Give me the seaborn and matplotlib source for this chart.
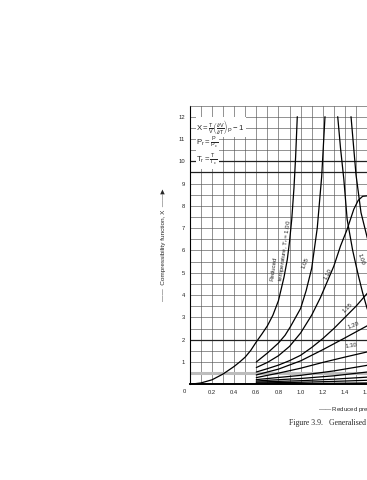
import matplotlib
matplotlib.use("Agg")
import matplotlib.pyplot as plt
import seaborn as sns
import numpy as np

# Data (reduced pressure Pr vs compressibility function X)
pr_100 = [0, 0.1, 0.2, 0.3, 0.4, 0.45, 0.5, 0.55, 0.6, 0.65, 0.7, 0.75, 0.8, 0.85, 0.88, 0.9, 0.92, 0.94, 0.955, 0.97]
x_100 = [0, 0.06, 0.2, 0.46, 0.8, 1.0, 1.22, 1.52, 1.9, 2.25, 2.62, 3.1, 3.75, 4.8, 5.6, 6.4, 7.4, 8.8, 10.2, 12.0]

pr_100b = [1.335, 1.36, 1.39, 1.42, 1.47, 1.52, 1.56, 1.6, 1.65]
x_100b = [12.0, 10.6, 9.2, 7.4, 6.0, 4.9, 4.1, 3.4, 2.8]

pr_105 = [0.6, 0.7, 0.8, 0.86, 0.91, 1.0, 1.05, 1.1, 1.15, 1.19, 1.22]
x_105 = [1.0, 1.4, 1.85, 2.2, 2.6, 3.4, 4.2, 5.2, 7.0, 9.3, 12.0]

pr_105b = [1.455, 1.5, 1.545, 1.6, 1.65]
x_105b = [12.0, 9.4, 7.7, 6.6, 5.8]

pr_110 = [0.6, 0.7, 0.8, 0.9, 1.0, 1.1, 1.18, 1.24, 1.3, 1.36, 1.42, 1.48, 1.52, 1.56, 1.6, 1.65]
x_110 = [0.75, 0.98, 1.28, 1.7, 2.3, 3.1, 3.9, 4.6, 5.3, 6.2, 6.95, 7.85, 8.25, 8.43, 8.45, 8.35]

pr_115 = [0.6, 0.7, 0.8, 0.9, 1.0, 1.1, 1.2, 1.3, 1.4, 1.5, 1.6, 1.65]
x_115 = [0.55, 0.7, 0.86, 1.06, 1.3, 1.65, 2.05, 2.5, 3.0, 3.5, 4.07, 4.4]

pr_120 = [0.6, 0.8, 1.0, 1.1, 1.2, 1.4, 1.6, 1.65]
x_120 = [0.42, 0.68, 1.05, 1.3, 1.55, 2.08, 2.62, 2.75]

pr_130 = [0.6, 0.8, 1.0, 1.2, 1.4, 1.6, 1.65]
x_130 = [0.3, 0.5, 0.72, 0.98, 1.22, 1.45, 1.5]

pr_low = [0.6, 1.0, 1.3, 1.6, 1.65]
x_140 = [0.21, 0.4, 0.6, 0.85, 0.88]
x_150 = [0.15, 0.26, 0.38, 0.55, 0.57]
x_200 = [0.1, 0.16, 0.23, 0.32, 0.33]
x_300 = [0.06, 0.09, 0.13, 0.18, 0.19]
x_500 = [0.02, 0.03, 0.045, 0.06, 0.065]

curves = [
    (pr_100, x_100), (pr_100b, x_100b), (pr_105, x_105), (pr_105b, x_105b),
    (pr_110, x_110), (pr_115, x_115), (pr_120, x_120), (pr_130, x_130),
    (pr_low, x_140), (pr_low, x_150), (pr_low, x_200), (pr_low, x_300), (pr_low, x_500),
]

y_ticks = list(range(1, 13))
x_ticks = [0.2, 0.4, 0.6, 0.8, 1.0, 1.2, 1.4, 1.6]

sns.set_style("white")
plt.rcParams['font.family'] = ['Liberation Sans', 'DejaVu Sans']
plt.rcParams['mathtext.fontset'] = 'custom'
plt.rcParams['mathtext.rm'] = 'Liberation Sans'
plt.rcParams['mathtext.it'] = 'Liberation Sans'

fig = plt.figure(figsize=(3.67, 4.8), dpi=100)
# axes run off the right edge, like the cropped scan
ax = fig.add_axes([0.5172, 0.1994, 0.6038, 0.5807])

for xs, ys in curves:
    sns.lineplot(x=xs, y=ys, ax=ax, color='black', linewidth=0.9,
                 estimator=None, sort=False, zorder=4)

ax.set_xlim(0, 2.0)
ax.set_ylim(0, 12.5)
ax.set_xticks(x_ticks)
ax.set_xticklabels([f"{v:.1f}" for v in x_ticks])
ax.set_xticks(np.arange(0.1, 2.0, 0.1), minor=True)
ax.set_yticks(y_ticks)
ax.set_yticks(np.arange(0.5, 12.5, 1.0), minor=True)
ax.grid(which='both', color='#555555', linewidth=0.45)
ax.tick_params(which='both', length=0)
ax.tick_params(axis='y', labelsize=4.2, pad=3.5)
ax.tick_params(axis='x', labelsize=4.2, pad=4)

for yv in [2, 9.5, 10]:
    ax.axhline(yv, color='#222222', linewidth=0.9, zorder=2)
ax.axhline(0.5, color='#bdbdbd', linewidth=2.2, zorder=2)

for side in ['top', 'right']:
    ax.spines[side].set_color('#555555')
    ax.spines[side].set_linewidth(0.45)
ax.spines['left'].set_color('black')
ax.spines['left'].set_linewidth(0.8)
ax.spines['bottom'].set_color('black')
ax.spines['bottom'].set_linewidth(1.4)

ax.text(-0.045, -0.33, '0', fontsize=4.2, ha='center', va='center')

# formula block
box = dict(fc='white', ec='none', pad=0.6)
ax.text(0.06, 11.55, r'$\mathrm{X}=\frac{\mathrm{T}}{\mathrm{V}}\left(\frac{\partial \mathrm{V}}{\partial \mathrm{T}}\right)_{\mathrm{P}}-1$',
        fontsize=5.6, ha='left', va='center', bbox=box, zorder=5)
ax.text(0.06, 10.8, r'$\mathrm{P_r}=\frac{\mathrm{P}}{\mathrm{P_c}}$',
        fontsize=5.6, ha='left', va='center', bbox=box, zorder=5)
ax.text(0.06, 10.05, r'$\mathrm{T_r}=\frac{\mathrm{T}}{\mathrm{T_c}}$',
        fontsize=5.6, ha='left', va='center', bbox=box, zorder=5)

# curve labels
lab = dict(fontsize=4.4, ha='center', va='center', zorder=5)
ax.text(0.83, 6.0, 'Reduced\ntemperature, $\\mathrm{T_r}$ = 1.00', rotation=82,
        multialignment='left', **lab)
ax.text(1.04, 5.45, '1.05', rotation=68, **lab)
ax.text(1.245, 4.95, '1.10', rotation=62, **lab)
ax.text(1.54, 5.6, '1.00', rotation=-72, **lab)
ax.text(1.425, 3.45, '1.15', rotation=45, **lab)
ax.text(1.48, 2.65, '1.20', rotation=22, **lab)
ax.text(1.46, 1.72, '1.30', rotation=8, **lab)
ax.text(1.59, 0.98, '1.40', rotation=6, fontsize=4.4, ha='left', va='center', zorder=5)

ax.set_ylabel('——  Compressibility function, X  ——\u25B6', fontsize=4.6, labelpad=9)
fig.text(318 / 367, 1 - 409 / 480, '—— Reduced pressure, $\\mathrm{P_r}$ ——\u25B6',
         fontsize=4.4, ha='left', va='center')
fig.text(289 / 367, 1 - 423 / 480, 'Figure 3.9.   Generalised compressibility chart',
         fontsize=5.6, ha='left', va='center', family='Liberation Serif')

fig.savefig('out.png', dpi=100)
